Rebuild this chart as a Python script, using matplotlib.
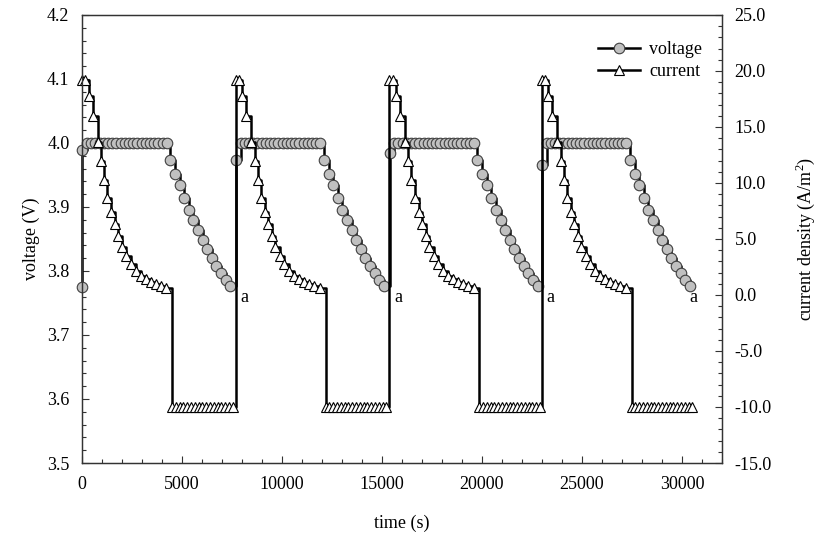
import matplotlib
matplotlib.use('Agg')
import matplotlib.pyplot as plt
from matplotlib.ticker import MultipleLocator, FormatStrFormatter
from matplotlib.lines import Line2D

plt.rcParams['font.family'] = 'Liberation Serif'
plt.rcParams['font.size'] = 13
plt.rcParams['axes.unicode_minus'] = False
plt.rcParams['mathtext.fontset'] = 'custom'
plt.rcParams['mathtext.rm'] = 'Liberation Serif'

# start of each charge step (s)
cycle_start = [0, 7680, 15360, 22980]

# open-circuit voltage before the first charge
v_rest_t = 0
v_rest = 3.775

# first voltage reading after the current is switched on
v_first_rel = 20
v_first = [3.989, 3.973, 3.985, 3.966]

# constant-voltage hold (times relative to cycle start)
v_hold_rel = [250, 460, 670, 880, 1090, 1300, 1510, 1720, 1930, 2140,
              2350, 2560, 2770, 2980, 3190, 3400, 3610, 3820, 4030, 4240]
v_hold = 4.0

# voltage during the discharge step
v_decay_rel = [4410, 4650, 4880, 5110, 5340, 5570, 5800, 6030, 6260, 6490,
               6720, 6950, 7180, 7420]
v_decay = [3.974, 3.952, 3.934, 3.914, 3.895, 3.879, 3.864, 3.849, 3.835,
           3.821, 3.808, 3.797, 3.786, 3.776]

# current density while charging (A/m2)
i_charge_rel = [0, 170, 330, 530, 780, 950, 1100, 1270, 1470, 1630, 1820,
                1990, 2220, 2430, 2680, 2930, 3180, 3430, 3680, 3930, 4220]
i_charge = [19.2, 19.2, 17.8, 16.0, 13.7, 12.0, 10.3, 8.7, 7.4, 6.3, 5.3,
            4.3, 3.45, 2.75, 2.15, 1.7, 1.4, 1.15, 0.95, 0.8, 0.6]

# constant discharge current
i_dis_rel = [4500, 4690, 4880, 5070, 5260, 5450, 5640, 5830, 6020, 6210,
             6400, 6590, 6780, 6970, 7160, 7350, 7540]
i_dis = -10.0

# points marked 'a' (end of each discharge)
a_time = [8100, 15800, 23400, 30550]
a_volt = 3.759

# assemble the full series
t_v = [v_rest_t]
volt = [v_rest]
t_i = []
curr = []
for k, t0 in enumerate(cycle_start):
    t_v.append(t0 + v_first_rel)
    volt.append(v_first[k])
    t_v += [t0 + t for t in v_hold_rel]
    volt += [v_hold] * len(v_hold_rel)
    t_v += [t0 + t for t in v_decay_rel]
    volt += v_decay
    t_i += [t0 + t for t in i_charge_rel]
    curr += i_charge
    t_i += [t0 + t for t in i_dis_rel]
    curr += [i_dis] * len(i_dis_rel)

MS = 7.6
LW = 1.8

fig = plt.figure(figsize=(8.19, 5.39), dpi=100)
ax = fig.add_axes([0.1001, 0.1410, 0.7814, 0.8312])
ax2 = ax.twinx()

ax.plot(t_v, volt, '-', drawstyle='steps-post', color='black', lw=LW,
        marker='o', ms=MS, mfc='#c0c0c0', mec='#404040', mew=0.8,
        clip_on=False)
ax2.plot(t_i, curr, '-', drawstyle='steps-post', color='black', lw=LW,
         marker='^', ms=MS, mfc='white', mec='black', mew=0.8, clip_on=False)

for t in a_time:
    ax.text(t, a_volt, 'a', ha='center', va='center', fontsize=13)

ax.set_xlim(0, 32000)
ax.set_ylim(3.5, 4.2)
ax2.set_ylim(-15, 25)

ax.xaxis.set_major_locator(MultipleLocator(5000))
ax.xaxis.set_minor_locator(MultipleLocator(1000))
ax.yaxis.set_major_locator(MultipleLocator(0.1))
ax.yaxis.set_minor_locator(MultipleLocator(0.02))
ax.yaxis.set_major_formatter(FormatStrFormatter('%.1f'))
ax2.yaxis.set_major_locator(MultipleLocator(5))
ax2.yaxis.set_minor_locator(MultipleLocator(1))
ax2.yaxis.set_major_formatter(FormatStrFormatter('%.1f'))

ax.tick_params(which='both', direction='in', top=False, right=False,
               width=0.8, color='#333333')
ax.tick_params(which='major', length=5, pad=9)
ax.tick_params(which='minor', length=3)
ax2.tick_params(which='both', direction='in', width=0.8, color='#333333')
ax2.tick_params(which='major', length=5, pad=9)
ax2.tick_params(which='minor', length=3)

for a in (ax, ax2):
    for s in a.spines.values():
        s.set_linewidth(0.9)
        s.set_color('#333333')

ax.set_xlabel('time (s)', labelpad=16)
ax.set_ylabel('voltage (V)', labelpad=5)
ax2.set_ylabel(r'current density (A/m$^{\mathregular{2}}$)', labelpad=16)

handles = [
    Line2D([], [], color='black', lw=LW, marker='o', ms=MS,
           mfc='#c0c0c0', mec='#404040', mew=0.8),
    Line2D([], [], color='black', lw=LW, marker='^', ms=MS,
           mfc='white', mec='black', mew=0.8),
]
ax2.legend(handles, ['voltage', 'current'], loc='upper right',
           bbox_to_anchor=(0.98, 0.957), frameon=False, handlelength=2.3,
           handletextpad=0.5, labelspacing=0.25, borderaxespad=0)

fig.savefig('out.png', dpi=100)
